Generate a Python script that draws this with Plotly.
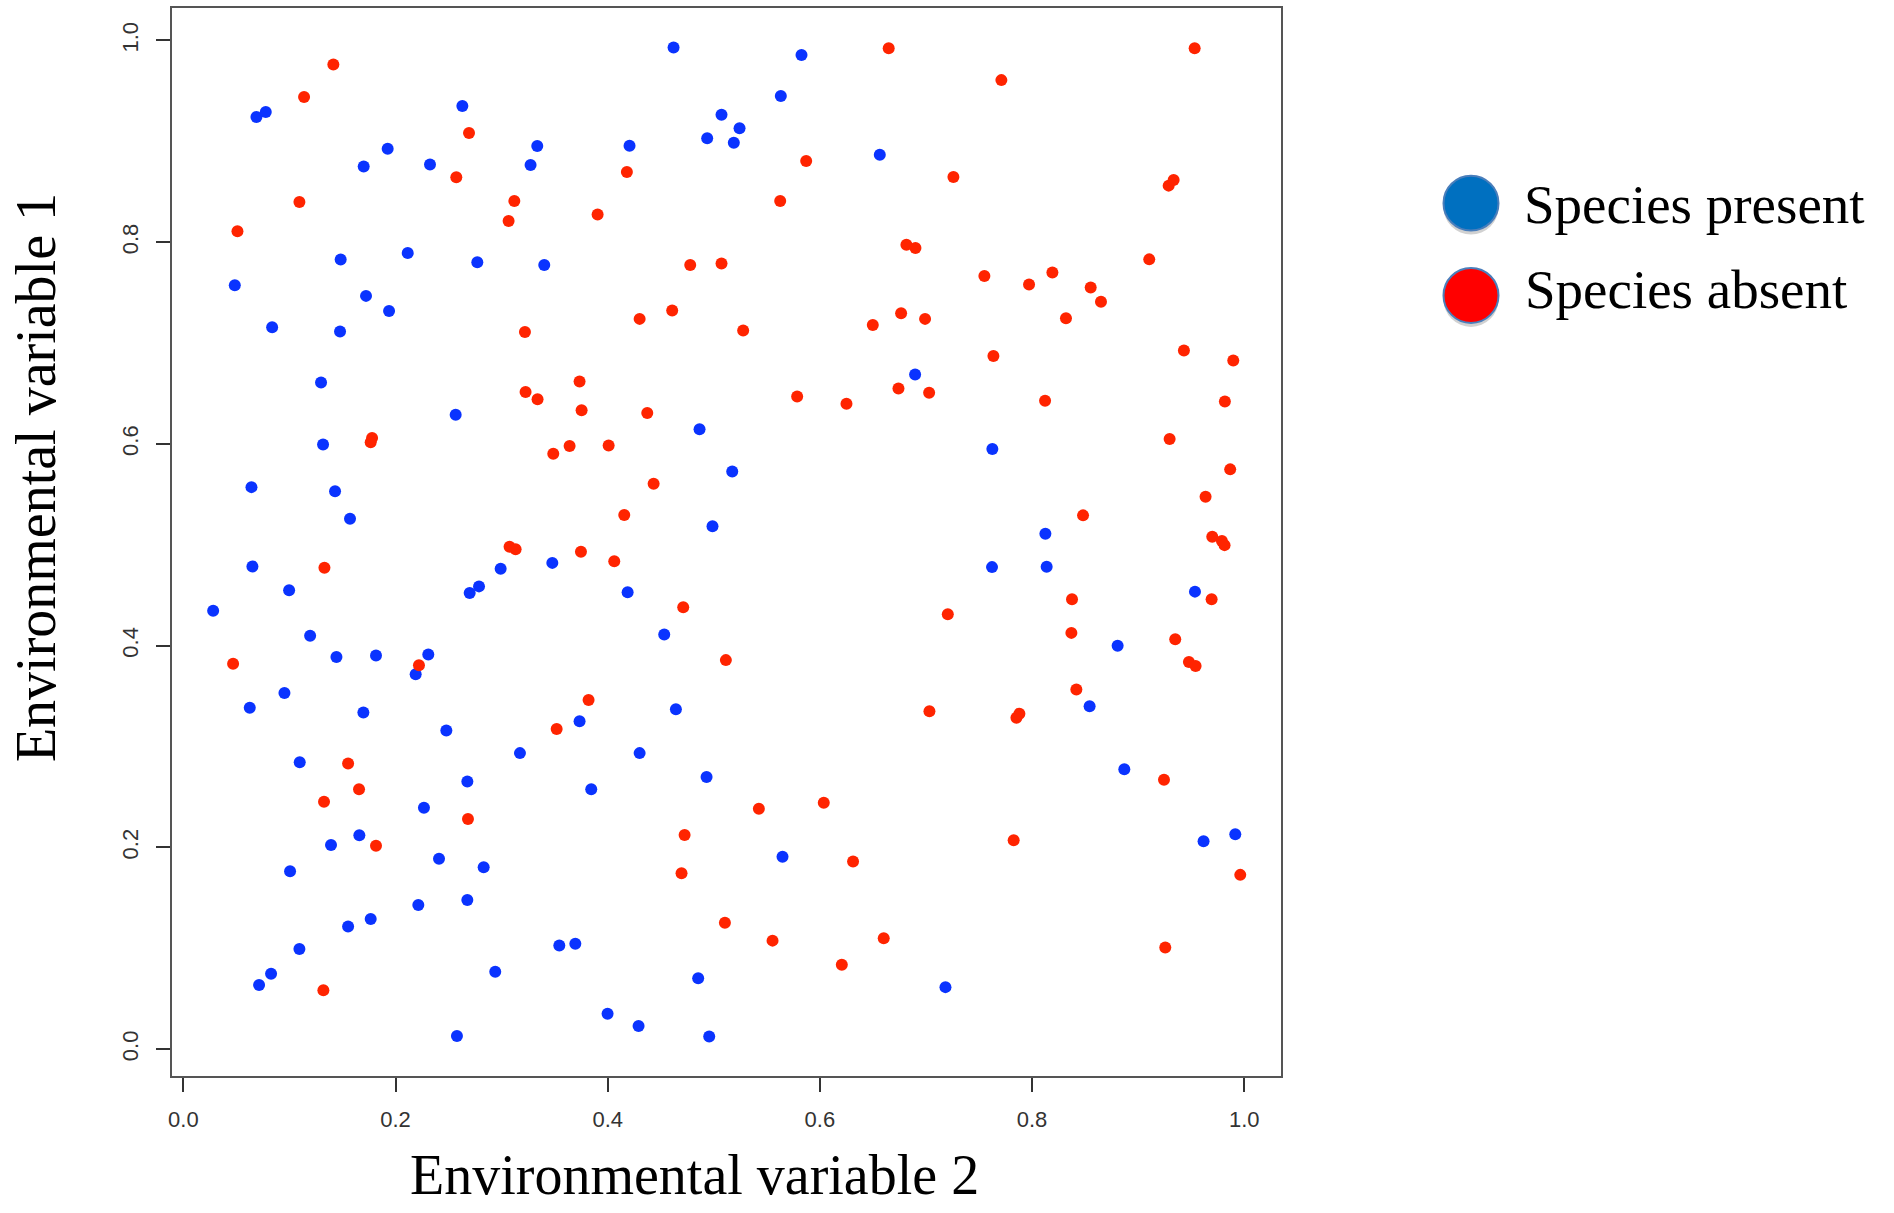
import plotly.graph_objects as go

# ---- data ----
present_x = [0.0689, 0.0777, 0.263, 0.1926, 0.170, 0.2325, 0.3336, 0.3273, 0.1483, 0.2115,
             0.2771, 0.3402, 0.0485, 0.1722, 0.1939, 0.0837, 0.1477, 0.1298, 0.2567, 0.1317,
             0.0642, 0.143, 0.1571,
             0.4621, 0.5827, 0.5632, 0.5073, 0.5243, 0.4938, 0.5189, 0.4206, 0.6565, 0.6898,
             0.4866, 0.5174, 0.4988,
             0.7626, 0.8126,
             0.0651, 0.0997, 0.0281, 0.1195, 0.1443, 0.1816, 0.2309, 0.219, 0.0953, 0.0626,
             0.1697, 0.2479, 0.3173, 0.1097, 0.2677, 0.2268, 0.1659, 0.1392, 0.241, 0.2831,
             0.1006, 0.2677, 0.2215, 0.1766, 0.1553, 0.1094, 0.0827, 0.0714, 0.294, 0.2579,
             0.2991, 0.2787, 0.2699,
             0.3478, 0.4188, 0.4533, 0.4643, 0.3735, 0.4301, 0.4932, 0.3845, 0.5648, 0.3544,
             0.3695, 0.4853, 0.3999, 0.4291, 0.4957,
             0.7623, 0.8138, 0.9536, 0.8807, 0.8543, 0.887, 0.9916, 0.9617, 0.7184]
present_y = [0.9242, 0.929, 0.935, 0.8926, 0.875, 0.877, 0.8953, 0.8766, 0.7829, 0.7894,
             0.7802, 0.7775, 0.7574, 0.7468, 0.7318, 0.7158, 0.7114, 0.661, 0.629, 0.5994,
             0.5572, 0.5531, 0.5258,
             0.993, 0.9855, 0.945, 0.9264, 0.913, 0.9031, 0.8987, 0.8956, 0.8868, 0.6689,
             0.6146, 0.5728, 0.5184,
             0.595, 0.511,
             0.4786, 0.455, 0.4346, 0.4099, 0.3888, 0.3902, 0.3912, 0.3718, 0.3531, 0.3385,
             0.3337, 0.316, 0.2935, 0.2844, 0.2654, 0.2394, 0.212, 0.2023, 0.1888, 0.1804,
             0.1763, 0.1478, 0.143, 0.1291, 0.1215, 0.0993, 0.0747, 0.0636, 0.0768, 0.013,
             0.4762, 0.4588, 0.4522,
             0.4821, 0.4529, 0.411, 0.3371, 0.325, 0.2935, 0.2699, 0.2577, 0.1908, 0.1028,
             0.1045, 0.0702, 0.0352, 0.023, 0.0126,
             0.4779, 0.4782, 0.4536, 0.3999, 0.3399, 0.2775, 0.213, 0.2061, 0.0615]

absent_x = [0.1414, 0.1138, 0.2693, 0.2573, 0.1094, 0.312, 0.3066, 0.051, 0.322, 0.3226,
            0.3339, 0.1779, 0.1766,
            0.6649, 0.5871, 0.4181, 0.3905, 0.5626, 0.6816, 0.6901, 0.4778, 0.5073, 0.4301,
            0.4608, 0.5277, 0.6499, 0.6766, 0.3735, 0.3754, 0.4373, 0.5786, 0.6251, 0.6741,
            0.3487, 0.3641, 0.4009, 0.4433, 0.4156,
            0.9533, 0.7711, 0.7259, 0.9288, 0.9335, 0.7551, 0.7972, 0.8192, 0.8553, 0.865,
            0.832, 0.9105, 0.6992, 0.7636, 0.9432, 0.9897, 0.703, 0.8123, 0.9818, 0.9297,
            0.9868, 0.9636, 0.8481,
            0.133, 0.3075, 0.3132, 0.0469, 0.2221, 0.1553, 0.1656, 0.1326, 0.2683, 0.1816,
            0.132,
            0.3748, 0.4062, 0.4712, 0.5114, 0.382, 0.3519, 0.5425, 0.6037, 0.4725, 0.4696,
            0.6313, 0.5105, 0.5554, 0.6602, 0.6207,
            0.9699, 0.979, 0.9815, 0.8377, 0.9693, 0.7206, 0.8371, 0.935, 0.9479, 0.9542,
            0.8418, 0.7033, 0.7853, 0.7881, 0.9244, 0.7827, 0.9963, 0.9256]
absent_y = [0.9763, 0.944, 0.9082, 0.8643, 0.8398, 0.8408, 0.8211, 0.8108, 0.7111, 0.6515,
            0.6443, 0.6059, 0.6018,
            0.9923, 0.8806, 0.8697, 0.8275, 0.8408, 0.7975, 0.7942, 0.7775, 0.7788, 0.724,
            0.7322, 0.7124, 0.7179, 0.7295, 0.662, 0.6334, 0.6307, 0.647, 0.6399, 0.6549,
            0.5902, 0.598, 0.5984, 0.5606, 0.5296,
            0.9923, 0.9607, 0.8646, 0.8561, 0.8616, 0.7666, 0.7581, 0.77, 0.755, 0.741,
            0.7246, 0.783, 0.724, 0.6872, 0.6926, 0.6828, 0.6508, 0.6429, 0.6422, 0.6048,
            0.5748, 0.5476, 0.5292,
            0.4772, 0.498, 0.4956, 0.3822, 0.3805, 0.2831, 0.2577, 0.2453, 0.2283, 0.2016,
            0.0584,
            0.4932, 0.4838, 0.438, 0.3857, 0.3462, 0.3174, 0.2383, 0.2442, 0.2123, 0.1745,
            0.186, 0.1253, 0.1076, 0.11, 0.0837,
            0.5081, 0.5039, 0.4997, 0.446, 0.446, 0.4311, 0.4127, 0.4065, 0.3839, 0.3798,
            0.3566, 0.3351, 0.3285, 0.3326, 0.2671, 0.2071, 0.1728, 0.1007]

tick_values = [0.0, 0.2, 0.4, 0.6, 0.8, 1.0]
tick_labels = ["0.0", "0.2", "0.4", "0.6", "0.8", "1.0"]
series_names = ["Species present", "Species absent"]
x_title = "Environmental variable 2"
y_title = "Environmental variable 1"

# ---- layout geometry (pixels) ----
W, H = 1894, 1213
L, R, T, B = 172, 1281, 6, 1076


def pxx(p):
    return (p - L) / (R - L)


def pxy(p):
    return (B - p) / (B - T)


fig = go.Figure()
fig.add_trace(go.Scatter(x=present_x, y=present_y, mode="markers", name=series_names[0],
                         marker=dict(color="#0a33ff", size=12, line=dict(width=0))))
fig.add_trace(go.Scatter(x=absent_x, y=absent_y, mode="markers", name=series_names[1],
                         marker=dict(color="#ff2400", size=12, line=dict(width=0))))

axis_common = dict(
    tickvals=tick_values, ticktext=tick_labels, ticks="outside", ticklen=14,
    tickwidth=1.5, tickcolor="#333", showline=True, mirror=True, linecolor="#555",
    linewidth=2, showgrid=False, zeroline=False,
    tickfont=dict(family="Liberation Sans, Arial, sans-serif", size=22, color="#333"),
)
fig.update_xaxes(range=[-0.0107, 1.0347], ticklabelstandoff=9, **axis_common)
fig.update_yaxes(range=[-0.0266, 1.0322], tickangle=-90, ticklabelstandoff=9, **axis_common)

serif = "Liberation Serif, Times New Roman, serif"
annotations = [
    dict(text=x_title, xref="paper", yref="paper", x=pxx(694), y=pxy(1175),
         xanchor="center", yanchor="middle", showarrow=False,
         font=dict(family=serif, size=56, color="black")),
    dict(text=y_title, xref="paper", yref="paper", x=pxx(36), y=pxy(477),
         xanchor="center", yanchor="middle", showarrow=False, textangle=-90,
         font=dict(family=serif, size=56, color="black")),
    dict(text=series_names[0], xref="paper", yref="paper", x=pxx(1522), y=pxy(203),
         xanchor="left", yanchor="middle", showarrow=False,
         font=dict(family=serif, size=55, color="black")),
    dict(text=series_names[1], xref="paper", yref="paper", x=pxx(1523), y=pxy(288),
         xanchor="left", yanchor="middle", showarrow=False,
         font=dict(family=serif, size=55, color="black")),
]

shapes = []
legend_circles = [((1471, 201.5), "#0070c0"), ((1471, 294), "#ff0000")]
for (cx, cy), col in legend_circles:
    r = 27.5
    # soft shadow
    shapes.append(dict(type="circle", xref="paper", yref="paper",
                       x0=pxx(cx - r), x1=pxx(cx + r), y0=pxy(cy + r + 4), y1=pxy(cy - r + 4),
                       fillcolor="rgba(0,0,0,0.18)", line=dict(width=0), layer="above"))
    shapes.append(dict(type="circle", xref="paper", yref="paper",
                       x0=pxx(cx - r), x1=pxx(cx + r), y0=pxy(cy + r), y1=pxy(cy - r),
                       fillcolor=col, line=dict(color="#4a7ebb", width=2), layer="above"))

fig.update_layout(
    width=W, height=H, margin=dict(l=L, r=W - R, t=T, b=H - B, pad=0),
    paper_bgcolor="white", plot_bgcolor="white", showlegend=False,
    annotations=annotations, shapes=shapes,
)

fig.write_html("out.html")
